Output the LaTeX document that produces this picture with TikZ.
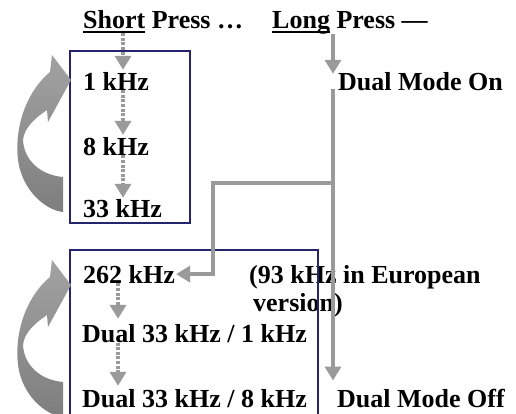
\documentclass[tikz,border=0pt]{standalone}
\usepackage{fontspec}
\setmainfont{Liberation Serif}
\usetikzlibrary{arrows.meta,calc}
\definecolor{navy}{HTML}{25256E}
\definecolor{argrey}{HTML}{9A9A9A}
\definecolor{bigtop}{HTML}{A2A2A2}
\definecolor{bigbot}{HTML}{7E7E7E}
\newcommand\myul[1]{\setbox0\hbox{#1}\rlap{\rule[-5pt]{\wd0}{1.8pt}}#1}
\begin{document}
\begin{tikzpicture}[x=1pt,y=-1pt,
  lbl/.style={anchor=base west,inner sep=0pt,font=\fontsize{26}{28}\selectfont\bfseries},
  dotarrow/.style={draw=argrey,line width=4pt,dash pattern=on 3pt off 1.6pt,-{Triangle[width=16pt,length=14pt]}},
  solidarrow/.style={draw=argrey,line width=4pt,-{Triangle[width=16pt,length=14pt]}},
  frame/.style={draw=navy,line width=2.5pt},
  curved/.style={top color=bigtop,bottom color=bigbot}]
\fill[white] (0,0) rectangle (516,413);
\useasboundingbox (0,0) rectangle (516,413);

% texts
\node[lbl] (short) at (83,28) {\myul{Short} Press …};
\node[lbl] (long) at (272,28) {\myul{Long} Press —};
\node[lbl] (f1) at (83,90) {1 kHz};
\node[lbl] (f8) at (83,155) {8 kHz};
\node[lbl] (f33) at (83,217) {33 kHz};
\node[lbl] (f262) at (83,283) {262 kHz};
\node[lbl] (d1) at (82,342) {Dual 33 kHz / 1 kHz};
\node[lbl] (d8) at (82,407) {Dual 33 kHz / 8 kHz};
\node[lbl] (on) at (338,90) {Dual Mode On};
\node[lbl] (off) at (337,407) {Dual Mode Off};
\node[lbl] (eu) at (249,283) {(93 kHz in European};
\node[lbl] (eu2) at (253,311) {version)};

% frames
\draw[frame] (70,51) rectangle (190,223);
\draw[frame] (70,420) -- (70,250) -- (318,250) -- (318,420);

% curved arrows
\foreach \dy in {0,205}{
  \shade[curved,shift={(0,\dy)}] (63,177) -- (63,212)
    .. controls (45,210) and (22,190) .. (18,160)
    .. controls (14,125) and (28,90) .. (50,72)
    -- (52,55) -- (71,80) -- (48,122) -- (47,110)
    .. controls (35,118) and (24,128) .. (23,140)
    .. controls (24,160) and (40,175) .. (63,177) -- cycle;
}

% short press chain
\coordinate (ca) at (123,0);
\coordinate (cb) at (118,0);
\coordinate (cl) at (333,0);
\draw[dotarrow,shorten >=2pt] (short.south -| ca) -- (f1.north -| ca);
\draw[dotarrow,shorten >=2pt] (f1.south -| ca) -- (f8.north -| ca);
\draw[dotarrow,shorten >=1pt] (f8.south -| ca) -- (f33.north -| ca);
\draw[dotarrow,shorten >=5pt] (f262.south -| cb) -- (d1.north -| cb);
\draw[dotarrow,shorten >=3pt] (d1.south -| cb) -- (d8.north -| cb);

% long press chain
\draw[solidarrow,shorten >=-2pt] (long.south -| cl) -- (on.north -| cl);
\draw[solidarrow,shorten >=8pt,shorten <=-2pt] (on.south -| cl) -- (off.north -| cl);
\coordinate (br) at (333,183);
\coordinate (jg) at (213,183);
\draw[solidarrow,shorten >=1pt] (br) -- (jg) |- (f262.east);
\end{tikzpicture}
\end{document}
